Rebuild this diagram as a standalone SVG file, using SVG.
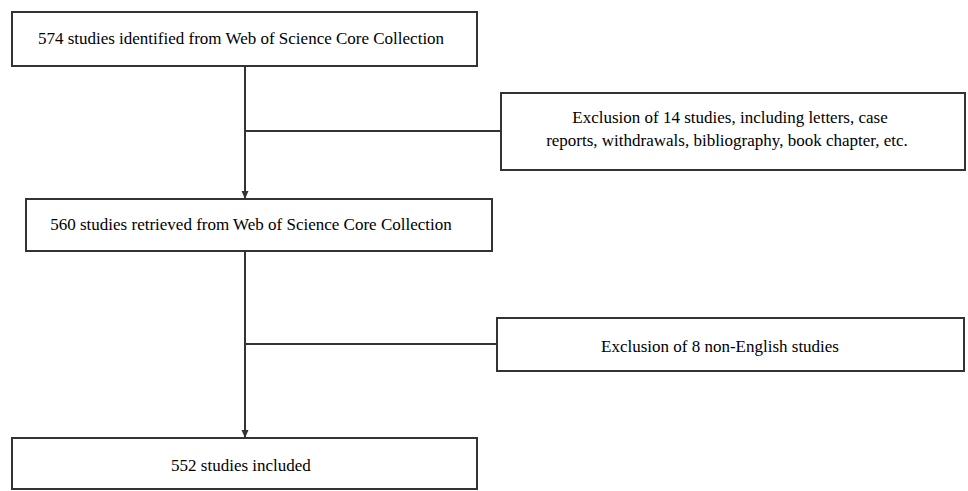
<svg xmlns="http://www.w3.org/2000/svg" width="968" height="491" viewBox="0 0 968 491">
<style>
.box{fill:#fff;stroke:#333;stroke-width:2}
.t{font-family:"Liberation Serif","Times New Roman",serif;font-size:17px;fill:#000;text-anchor:middle}
.c{stroke:#333;stroke-width:2;fill:none}
</style>
<defs>
<marker id="ah" markerWidth="8" markerHeight="8" refX="7" refY="4" orient="auto" markerUnits="userSpaceOnUse">
<path d="M0,0.5 L8,4 L0,7.5 Z" fill="#333"/>
</marker>
</defs>
<rect width="968" height="491" fill="#fff"/>
<g id="connectors">
<line class="c" x1="245" y1="66" x2="245" y2="198" marker-end="url(#ah)"/>
<line class="c" x1="245" y1="131" x2="501" y2="131"/>
<line class="c" x1="245" y1="251" x2="245" y2="437" marker-end="url(#ah)"/>
<line class="c" x1="245" y1="344" x2="497" y2="344"/>
</g>
<g id="n1">
<rect class="box" x="12" y="12" width="465" height="54"/>
<text class="t" x="241" y="44">574 studies identified from Web of Science Core Collection</text>
</g>
<g id="n2">
<rect class="box" x="501" y="93" width="464" height="77"/>
<text class="t" x="730" y="123">Exclusion of 14 studies, including letters, case</text>
<text class="t" x="727" y="146">reports, withdrawals, bibliography, book chapter, etc.</text>
</g>
<g id="n3">
<rect class="box" x="26" y="199" width="466" height="52"/>
<text class="t" x="251" y="230">560 studies retrieved from Web of Science Core Collection</text>
</g>
<g id="n4">
<rect class="box" x="497" y="318" width="467" height="53"/>
<text class="t" x="720" y="352">Exclusion of 8 non-English studies</text>
</g>
<g id="n5">
<rect class="box" x="12" y="438" width="465" height="51"/>
<text class="t" x="241" y="471">552 studies included</text>
</g>
</svg>
